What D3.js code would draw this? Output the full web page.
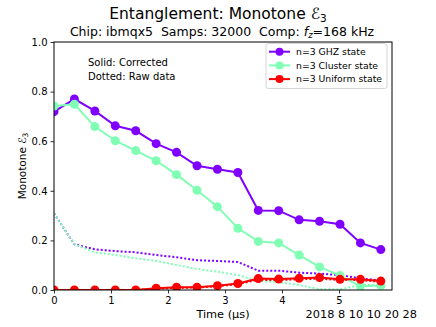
<!DOCTYPE html>
<html><head><meta charset="utf-8">
<script src="https://cdn.jsdelivr.net/npm/d3@7"></script>
<style>body{margin:0;background:#fff}svg{font-family:"DejaVu Sans",sans-serif}</style>
</head><body><svg id="c" width="436" height="327"></svg>
<script>
const times = [0,0.358,0.717,1.075,1.434,1.792,2.150,2.509,2.867,3.226,3.584,3.942,4.301,4.659,5.018,5.376,5.734];
const ghzCorr = [0.719,0.770,0.722,0.662,0.642,0.590,0.555,0.501,0.487,0.474,0.321,0.320,0.283,0.277,0.265,0.190,0.163];
const clusterCorr = [0.742,0.749,0.659,0.602,0.562,0.521,0.465,0.402,0.336,0.249,0.196,0.190,0.141,0.093,0.058,0.015,0.018];
const uniformCorr = [0.0,0.0,0.0,0.0,0.0,0.007,0.011,0.011,0.017,0.026,0.046,0.044,0.047,0.050,0.043,0.043,0.036];
const ghzRaw = [0.309,0.184,0.164,0.157,0.152,0.141,0.132,0.120,0.117,0.113,0.078,0.078,0.070,0.066,0.060,0.047,0.038];
const clusterRaw = [0.309,0.184,0.152,0.141,0.128,0.117,0.101,0.085,0.074,0.060,0.036,0.032,0.020,0.003,0.003,0.020,0.020];
const uniformRaw = [0.0,0.0,0.0,0.0,0.0,0.005,0.009,0.010,0.015,0.024,0.041,0.040,0.043,0.046,0.040,0.040,0.033];
const seriesNames = ["n=3 GHZ state","n=3 Cluster state","n=3 Uniform state"];
const colors = ["#8000ff","#80ffb4","#ff0000"];
const xTicks = [0,1,2,3,4,5];
const yTicks = [0.0,0.2,0.4,0.6,0.8,1.0];

const svg = d3.select("#c");
const L=54,R=392,T=42,B=290;
const x = d3.scaleLinear().domain([0,5.93]).range([L,R]);
const y = d3.scaleLinear().domain([0,1]).range([B,T]);

const plot = svg.append("g");
svg.append("clipPath").attr("id","cp").append("rect").attr("x",L).attr("y",T).attr("width",R-L).attr("height",B-T);
const line = d3.line().x((d,i)=>x(times[i])).y(d=>y(d));
const raws=[ghzRaw,clusterRaw,uniformRaw], cors=[ghzCorr,clusterCorr,uniformCorr];
const g = plot.append("g").attr("clip-path","url(#cp)");
raws.forEach((s,k)=>{
  g.append("path").attr("d",line(s)).attr("fill","none").attr("stroke",colors[k]).attr("stroke-width",2).attr("stroke-dasharray","2,2");
});
cors.forEach((s,k)=>{
  g.append("path").attr("d",line(s)).attr("fill","none").attr("stroke",colors[k]).attr("stroke-width",2);
  g.selectAll(null).data(s).enter().append("circle").attr("cx",(d,i)=>x(times[i])).attr("cy",d=>y(d)).attr("r",4.5).attr("fill",colors[k]);
});

// axes
const xa = svg.append("g").attr("transform",`translate(0,${B})`).call(d3.axisBottom(x).tickValues(xTicks).tickSize(3.5).tickPadding(3).tickFormat(d3.format("d")));
const ya = svg.append("g").attr("transform",`translate(${L},0)`).call(d3.axisLeft(y).tickValues(yTicks).tickSize(3.5).tickPadding(3).tickFormat(d3.format(".1f")));
[xa,ya].forEach(a=>{a.select(".domain").remove();a.selectAll("text").attr("font-size",10).attr("fill","#000").attr("font-family","DejaVu Sans");a.selectAll("line").attr("stroke","#000").attr("stroke-width",0.8);});
svg.append("rect").attr("x",L).attr("y",T).attr("width",R-L).attr("height",B-T).attr("fill","none").attr("stroke","#000").attr("stroke-width",1);

// titles
svg.append("text").attr("x",218).attr("y",19).attr("text-anchor","middle").attr("font-size",15.5)
  .html('Entanglement: Monotone <tspan font-style="italic">ℰ</tspan><tspan font-size="10.5" dy="3">3</tspan>');
svg.append("text").attr("x",222).attr("y",36).attr("text-anchor","middle").attr("font-size",12.5)
  .html('Chip: ibmqx5  Samps: 32000  Comp: <tspan font-style="italic">f</tspan><tspan font-size="8.5" font-style="italic" dy="2">z</tspan><tspan dy="-2">=168 kHz</tspan>').style("white-space","pre");
svg.append("text").attr("transform","translate(26,166) rotate(-90)").attr("text-anchor","middle").attr("font-size",10.5)
  .html('Monotone <tspan font-style="italic">ℰ</tspan><tspan font-size="7.5" dy="2">3</tspan>');
svg.append("text").attr("x",223).attr("y",318).attr("text-anchor","middle").attr("font-size",11.3).text("Time (μs)");
svg.append("text").attr("x",417).attr("y",318).attr("text-anchor","end").attr("font-size",11.3).text("2018 8 10 10 20 28");
svg.append("text").attr("x",88).attr("y",66).attr("font-size",10).text("Solid: Corrected");
svg.append("text").attr("x",88).attr("y",79.5).attr("font-size",10).text("Dotted: Raw data");

// legend
const lg = svg.append("g");
lg.append("rect").attr("x",266).attr("y",43.5).attr("width",121).attr("height",45).attr("rx",2.5).attr("fill","#fff").attr("fill-opacity",0.8).attr("stroke","#ccc").attr("stroke-width",0.8);
seriesNames.forEach((n,k)=>{
  const yy=51.7+k*13.7;
  lg.append("line").attr("x1",269).attr("x2",290).attr("y1",yy).attr("y2",yy).attr("stroke",colors[k]).attr("stroke-width",2);
  lg.append("circle").attr("cx",279.5).attr("cy",yy).attr("r",4).attr("fill",colors[k]);
  lg.append("text").attr("x",296).attr("y",yy+3.3).attr("font-size",9.3).text(n);
});
</script></body></html>
